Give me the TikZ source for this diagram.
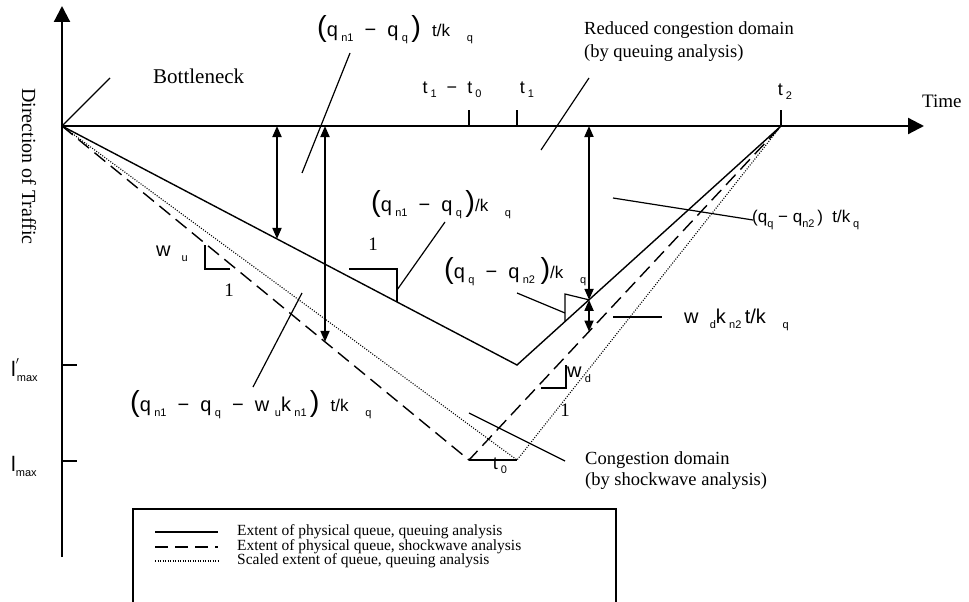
\documentclass[tikz,border=0pt]{standalone}
\usepackage{fontspec}
\setmainfont{Liberation Serif}
\setsansfont{Liberation Sans}
\usetikzlibrary{arrows.meta, calc}

\newcommand{\bigpar}[1]{{\fontsize{29}{29}\selectfont #1}}
\newcommand{\sbs}[1]{\raisebox{-0.45ex}{\fontsize{11}{11}\selectfont #1}}
\newcommand{\tk}{{\fontsize{17}{17}\selectfont t/k}}
\newcommand{\sk}{{\fontsize{17}{17}\selectfont /k}}

\begin{document}
\begin{tikzpicture}[x=1pt, y=-1pt,
  axis/.style={line width=2.2pt, -{Triangle[length=16pt, width=16pt]}},
  queue/.style={line width=1.4pt},
  shock/.style={line width=1.4pt, dash pattern=on 14pt off 7pt},
  scaled/.style={line width=1.1pt, dash pattern=on 1pt off 1.5pt},
  dimarr/.style={line width=1.8pt, {Triangle[length=11pt, width=9pt]}-{Triangle[length=11pt, width=9pt]}},
  leader/.style={line width=1.2pt},
  tickmark/.style={line width=1.4pt},
  serif/.style={font=\fontsize{19}{23}\selectfont\rmfamily, inner sep=0pt},
  mlbl/.style={font=\fontsize{20}{22}\selectfont\sffamily, inner sep=0pt},
  leg/.style={font=\fontsize{15.5}{15}\selectfont\rmfamily, inner sep=0pt, anchor=west}]
  \useasboundingbox (0,0) rectangle (969,602);

  % axes and corner points
  \coordinate (O) at (62,126);
  \coordinate (ytop) at (62,6);
  \coordinate (ybot) at (62,557);
  \coordinate (xend) at (924,126);
  \coordinate (qv) at (517,365);
  \coordinate (sv) at (469,460);
  \coordinate (dv) at (517,460);
  \coordinate (t2) at (781,126);
  \coordinate (ta) at (469,126);
  \coordinate (tb) at (517,126);
  \draw[axis] (ybot) -- (ytop);
  \draw[axis] (O) -- (xend);
  \draw[tickmark] (ta) -- ++(0,-16);
  \draw[tickmark] (tb) -- ++(0,-16);
  \draw[tickmark] (t2) -- ++(0,-16);
  \draw[tickmark] (62,365) -- (77,365);
  \draw[tickmark] (62,461) -- (77,461);

  % the three queue profiles
  \draw[queue] (O) -- (qv) -- (t2);
  \draw[shock] (O) -- (sv) -- (t2);
  \draw[scaled] (O) -- (dv) -- (t2);
  \draw[leader] (sv) -- (dv);

  % dimension arrows
  \coordinate (a1t) at (277,126);
  \coordinate (a1b) at (intersection of O--qv and 277,0--277,600);
  \coordinate (a2t) at (325,126);
  \coordinate (a2b) at (intersection of O--sv and 325,0--325,600);
  \coordinate (a3t) at (589,126);
  \coordinate (a3m) at (intersection of qv--t2 and 589,0--589,600);
  \coordinate (a3b) at (intersection of sv--t2 and 589,0--589,600);
  \draw[dimarr] (a1t) -- (a1b);
  \draw[dimarr] (a2t) -- (a2b);
  \draw[dimarr] (a3t) -- (a3m);
  \draw[dimarr] (a3m) -- (a3b);

  % slope triangles
  \coordinate (s1c) at (397,269);
  \draw[leader] (349,269) -- (s1c) -- (intersection of O--qv and 397,0--397,600);
  \coordinate (s2c) at (565,294);
  \draw[leader] (a3m) -- (s2c) -- (intersection of qv--t2 and 565,0--565,600);
  \coordinate (s3c) at (566,388);
  \draw[leader] (566,365) -- (s3c) -- (541,388);
  \coordinate (s4c) at (205,269);
  \draw[leader] (205,245) -- (s4c) -- (230,269);

  % text
  \node[serif, anchor=base west, font=\fontsize{21}{23}\selectfont\rmfamily] (bneck) at (153,84) {Bottleneck};
  \node[serif, anchor=base west] (timelbl) at (922,107) {Time};
  \node[serif, anchor=base west, rotate=-90, font=\fontsize{20}{23}\selectfont\rmfamily] (dirlbl) at (22,88) {Direction of Traffic};
  \node[serif, anchor=west, align=left, font=\fontsize{18.5}{23}\selectfont\rmfamily] (redlbl) at (584,42)
    {Reduced congestion domain\\(by queuing analysis)};
  \node[serif, anchor=west, align=left, font=\fontsize{18.5}{21}\selectfont\rmfamily] (conglbl) at (585,471)
    {Congestion domain\\(by shockwave analysis)};
  \node[mlbl, font=\fontsize{18}{20}\selectfont\sffamily] (tdiff) at (452,90) {t\,\sbs{1}\ \ −\ \ t\,\sbs{0}};
  \node[mlbl, font=\fontsize{18}{20}\selectfont\sffamily] (tone) at (527,90) {t\,\sbs{1}};
  \node[mlbl, font=\fontsize{18}{20}\selectfont\sffamily] (ttwo) at (785,92) {t\,\sbs{2}};
  \node[mlbl, anchor=west] (qtop) at (317,30)
    {\bigpar{(}q\,\sbs{n1}\ \ −\ \ q\,\sbs{q}\,\bigpar{)}\ \ \tk\ \ \ \sbs{q}};
  \node[mlbl, anchor=west] (qn1slope) at (371,205)
    {\bigpar{(}q\,\sbs{n1}\ \ −\ \ q\,\sbs{q}\,\bigpar{)}\sk\ \ \ \sbs{q}};
  \node[mlbl, anchor=west] (qqslope) at (444,272)
    {\bigpar{(}q\,\sbs{q}\ \ −\ \ q\,\sbs{n2}\ \bigpar{)}\sk\ \ \ \sbs{q}};
  \node[mlbl, anchor=west, font=\fontsize{17}{20}\selectfont\sffamily] (qqn2t) at (752,220)
    {(q\sbs{q}\ −\ q\sbs{n2}\,)\ \ t/k\,\sbs{q}};
  \node[mlbl, anchor=west] (wdkn) at (684,320)
    {w\ \ \sbs{d}k\,\sbs{n2}\,t/k\ \ \ \sbs{q}};
  \node[mlbl, anchor=west] (biglbl) at (130,405)
    {\bigpar{(}q\,\sbs{n1}\ \ −\ \ q\,\sbs{q}\ \ −\ \ w\ \sbs{u}k\,\sbs{n1}\,\bigpar{)}\ \ \tk\ \ \ \sbs{q}};
  \node[serif] (onea) at (373,244) {1};
  \node[serif] (oneb) at (229,290) {1};
  \node[serif] (onec) at (565,410) {1};
  \node[mlbl] (wu) at (172,254) {w\ \ \sbs{u}};
  \node[mlbl] (wd) at (579,375) {w\,\sbs{d}};
  \node[mlbl, font=\fontsize{18}{20}\selectfont\sffamily] (tzero) at (500,466) {t\,\sbs{0}};
  \node[mlbl, anchor=west, font=\fontsize{21}{22}\selectfont\sffamily] (lmaxp) at (11,370) {l$^{'}$\kern-3pt\sbs{max}};
  \node[mlbl, anchor=west, font=\fontsize{21}{22}\selectfont\sffamily] (lmax) at (11,466) {l\sbs{max}};

  % leaders
  \coordinate (bneckend) at (110,78);
  \draw[leader] (O) -- (bneckend);
  \draw[leader] (350,53) -- (302,173);
  \draw[leader] (589,78) -- (541,150);
  \draw[leader] (613,198) -- (753,220);
  \draw[leader] (613,317) -- (662,317);
  \draw[leader] (253,387) -- (302,293);
  \draw[leader] (469,413) -- (565,461);
  \draw[leader] (397,290) -- (445,222);
  \draw[leader] (565,313) -- (517,293);

  % legend
  \draw[line width=1.2pt] (133,602) -- (133,509) -- (616,509) -- (616,602);
  \draw[queue] (155,532) -- (218,532);
  \draw[shock, dash pattern=on 13pt off 7pt] (155,547) -- (218,547);
  \draw[scaled] (155,561) -- (218,561);
  \node[leg] (leg1) at (237,532) {Extent of physical queue, queuing analysis};
  \node[leg] (leg2) at (237,547) {Extent of physical queue, shockwave analysis};
  \node[leg] (leg3) at (237,561) {Scaled extent of queue, queuing analysis};
\end{tikzpicture}
\end{document}
